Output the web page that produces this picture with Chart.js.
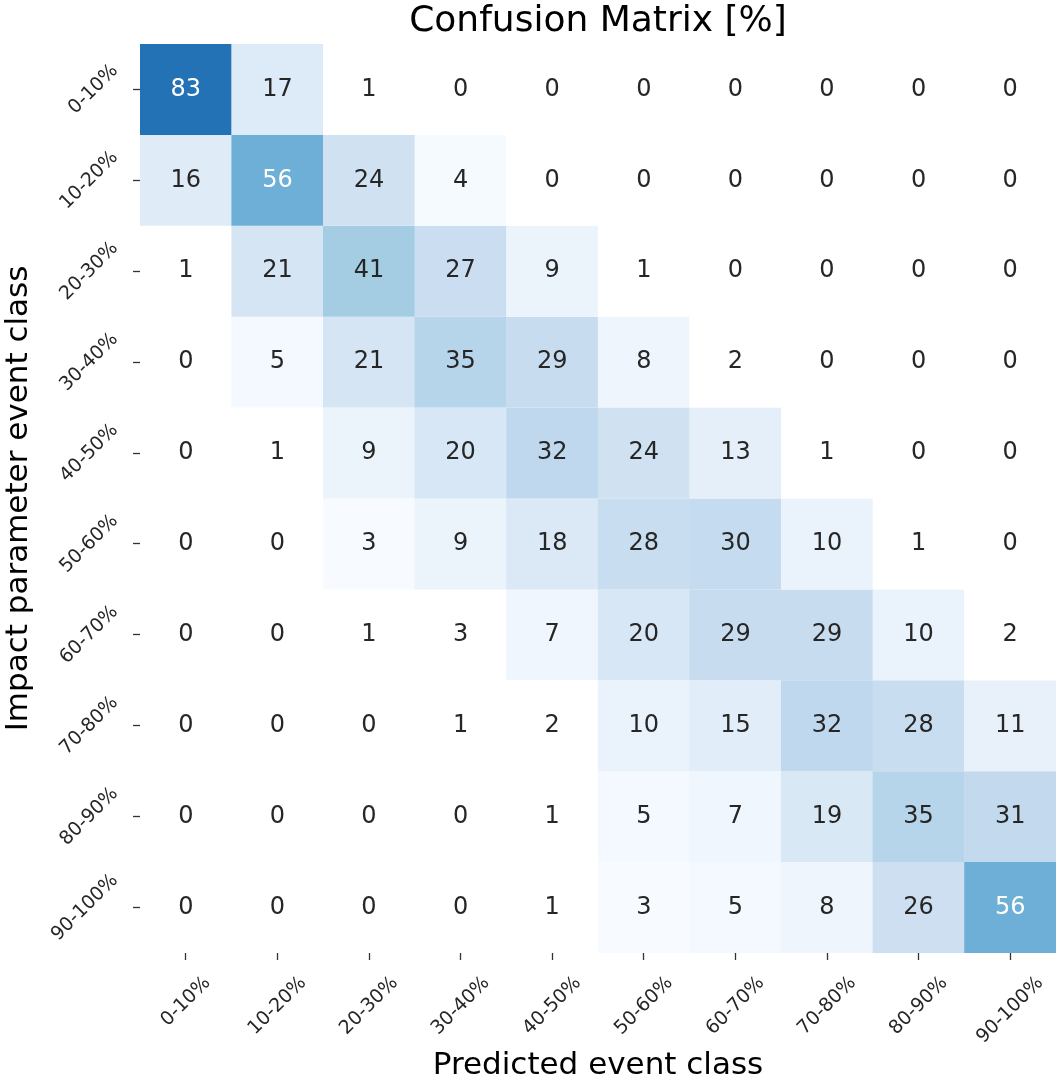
<!DOCTYPE html>
<html lang="en">
  <head>
    <meta charset="UTF-8" />
    <title>confusion matrix</title>
    <script src="https://cdn.jsdelivr.net/npm/chart.js@4.4.1/dist/chart.umd.min.js"></script>
    <style>
      html, body { margin: 0; padding: 0; background: #fff; }
      .wrap { width: 1056px; height: 1085px; }
    </style>
  </head>
  <body>
    <div class="wrap">
      <canvas id="cm"></canvas>
    </div>

    <script>
      // class labels (same for true and predicted)
      const classes = ["0-10%", "10-20%", "20-30%", "30-40%", "40-50%",
                       "50-60%", "60-70%", "70-80%", "80-90%", "90-100%"];

      // rows = impact parameter class, columns = predicted class, in %
      const row0 = [83, 17, 1, 0, 0, 0, 0, 0, 0, 0];
      const row1 = [16, 56, 24, 4, 0, 0, 0, 0, 0, 0];
      const row2 = [1, 21, 41, 27, 9, 1, 0, 0, 0, 0];
      const row3 = [0, 5, 21, 35, 29, 8, 2, 0, 0, 0];
      const row4 = [0, 1, 9, 20, 32, 24, 13, 1, 0, 0];
      const row5 = [0, 0, 3, 9, 18, 28, 30, 10, 1, 0];
      const row6 = [0, 0, 1, 2.7, 7, 20, 29, 29, 10, 2]; // the "3" here is left blank in the picture
      const row7 = [0, 0, 0, 1, 2, 10, 15, 32, 28, 11];
      const row8 = [0, 0, 0, 0, 1, 5, 7, 19, 35, 31];
      const row9 = [0, 0, 0, 0, 1, 3, 5, 8, 26, 56];
      const matrix = [row0, row1, row2, row3, row4, row5, row6, row7, row8, row9];

      //fonts
      const fontFamily = "'DejaVu Sans', sans-serif";
      const titleFontSize = 36;
      const axisTitleSize = 31;
      const tickFontSize = 19;
      const cellFontSize = 24;

      //colormap (matplotlib Blues)
      const blues = ["#f7fbff", "#deebf7", "#c6dbef", "#9ecae1", "#6baed6",
                     "#4292c6", "#2171b5", "#08519c", "#08306b"];
      const colorMin = 3;
      const colorMax = 110;
      const maskBelow = 3; // small cells are drawn white

      function hexToRgb(hex) {
        hex = hex.replace("#", "");
        return [0, 2, 4].map((k) => parseInt(hex.slice(k, k + 2), 16));
      }

      function blueRgb(v) {
        let t = (v - colorMin) / (colorMax - colorMin);
        t = Math.max(0, Math.min(1, t)) * (blues.length - 1);
        let i = Math.min(Math.floor(t), blues.length - 2);
        let f = t - i;
        let a = hexToRgb(blues[i]);
        let b = hexToRgb(blues[i + 1]);
        return a.map((c, k) => Math.round(c + (b[k] - c) * f));
      }

      function cellRgb(v) {
        return v < maskBelow ? [255, 255, 255] : blueRgb(v);
      }

      function rgbStr(c) {
        return "rgb(" + c[0] + ", " + c[1] + ", " + c[2] + ")";
      }

      //seaborn style: dark text on light cells, white on dark ones
      function textColor(v) {
        const lin = cellRgb(v).map((c) => {
          c = c / 255;
          return c <= 0.03928 ? c / 12.92 : Math.pow((c + 0.055) / 1.055, 2.4);
        });
        const lum = 0.2126 * lin[0] + 0.7152 * lin[1] + 0.0722 * lin[2];
        return lum > 0.408 ? "#262626" : "#ffffff";
      }

      //one floating bar per cell, a dataset per row
      const datasets = matrix.map((row, i) => ({
        label: classes[i],
        data: row.map(() => [i, i + 1]),
        backgroundColor: row.map((v) => rgbStr(cellRgb(v))),
        borderWidth: 0,
        barPercentage: 1.004,
        categoryPercentage: 1,
        grouped: false,
      }));

      //numbers inside the cells
      const cellText = {
        id: "cellText",
        afterDatasetsDraw(chart) {
          const ctx = chart.ctx;
          ctx.save();
          ctx.font = cellFontSize + "px " + fontFamily;
          ctx.textAlign = "center";
          ctx.textBaseline = "middle";
          chart.data.datasets.forEach((ds, i) => {
            chart.getDatasetMeta(i).data.forEach((bar, j) => {
              const v = matrix[i][j];
              ctx.fillStyle = textColor(v);
              ctx.fillText(String(Math.round(v)), bar.x, (bar.y + bar.base) / 2);
            });
          });
          ctx.restore();
        },
      };

      //rotated tick labels (45 deg on both axes)
      const tickText = {
        id: "tickText",
        afterDraw(chart) {
          const ctx = chart.ctx;
          const xs = chart.scales.x;
          const ys = chart.scales.y;
          const h = tickFontSize * 0.73;
          ctx.save();
          ctx.font = tickFontSize + "px " + fontFamily;
          ctx.fillStyle = "#262626";
          ctx.textAlign = "center";
          ctx.textBaseline = "middle";
          classes.forEach((c, i) => {
            const w = ctx.measureText(c).width;
            const half = ((w + h) * Math.SQRT1_2) / 2;

            // y axis: right edge of the label box at a fixed gap from the ticks
            const yy = ys.getPixelForValue(i + 0.5);
            ctx.save();
            ctx.translate(chart.chartArea.left - 20 - half, yy);
            ctx.rotate(-Math.PI / 4);
            ctx.fillText(c, 0, 0);
            ctx.restore();

            // x axis: label box centred under the tick
            const xx = xs.getPixelForValue(i);
            ctx.save();
            ctx.translate(xx, chart.chartArea.bottom + 22 + half);
            ctx.rotate(-Math.PI / 4);
            ctx.fillText(c, 0, 0);
            ctx.restore();
          });
          ctx.restore();
        },
      };

      const gridOptions = {
        display: true,
        drawOnChartArea: false,
        drawTicks: true,
        tickLength: 7,
        tickWidth: 1.3,
        tickColor: "#333333",
        offset: false,
      };

      const config = {
        type: "bar",
        data: {
          labels: classes,
          datasets: datasets,
        },
        options: {
          responsive: true,
          maintainAspectRatio: false,
          animation: false,
          layout: { padding: 0 },
          plugins: {
            legend: { display: false },
            tooltip: { enabled: false },
            title: {
              display: true,
              fullSize: false,
              text: "Confusion Matrix [%]",
              color: "#000000",
              font: { family: fontFamily, size: titleFontSize, weight: "normal" },
              padding: { top: 0, bottom: 0.8 },
            },
          },
          scales: {
            x: {
              type: "category",
              offset: true,
              grid: gridOptions,
              border: { display: false },
              ticks: { display: false },
              title: {
                display: true,
                text: "Predicted event class",
                color: "#000000",
                font: { family: fontFamily, size: axisTitleSize },
                padding: 0,
              },
              afterFit: (scale) => {
                scale.height = 132;
              },
            },
            y: {
              type: "linear",
              min: 0,
              max: classes.length,
              reverse: true,
              afterBuildTicks: (scale) => {
                scale.ticks = classes.map((c, i) => ({ value: i + 0.5 }));
              },
              grid: gridOptions,
              border: { display: false },
              ticks: { display: false },
              title: {
                display: true,
                text: "Impact parameter event class",
                color: "#000000",
                font: { family: fontFamily, size: axisTitleSize },
                padding: 0,
              },
              afterFit: (scale) => {
                scale.width = 140;
              },
            },
          },
        },
        plugins: [cellText, tickText],
      };

      const cmChart = new Chart(document.getElementById("cm"), config);
    </script>
  </body>
</html>
